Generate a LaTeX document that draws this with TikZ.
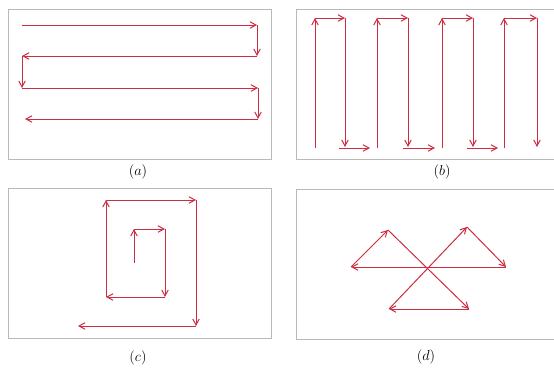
\documentclass[tikz,border=0pt]{standalone}
\usetikzlibrary{arrows.meta}
\definecolor{pathred}{RGB}{205,45,65}
\definecolor{framegray}{RGB}{185,185,185}
\tikzset{
  frame/.style={draw=framegray, line width=0.9pt},
  route/.style={draw=pathred, line width=1pt, -{Straight Barb[length=6pt,width=6.5pt]}},
  captext/.style={font=\fontsize{13.5}{15}\selectfont}
}
\begin{document}
\begin{tikzpicture}[x=1pt,y=-1pt]
\useasboundingbox (0,0) rectangle (554,367);
\fill[white] (0,0) rectangle (554,367);
% frames
\draw[frame] (8,9) rectangle (271,159);
\draw[frame] (296,9) rectangle (560,159);
\draw[frame] (8,188) rectangle (271,338);
\draw[frame] (296,189) rectangle (560,339);
% labels
\node[captext] (la) at (138,172) {$(a)$};
\node[captext] (lb) at (442,172) {$(b)$};
\node[captext] (lc) at (138,358) {$(c)$};
\node[captext] (ld) at (426,357) {$(d)$};
% (a)
\coordinate (a0) at (22,25);
\coordinate (a1) at (257,25);
\coordinate (a2) at (257,56);
\coordinate (a3) at (22,56);
\coordinate (a4) at (22,88);
\coordinate (a5) at (258,88);
\coordinate (a6) at (258,119);
\coordinate (a7) at (25,119);
\draw[route] (a0) -- (a1);
\draw[route] (a1) -- (a2);
\draw[route] (a2) -- (a3);
\draw[route] (a3) -- (a4);
\draw[route] (a4) -- (a5);
\draw[route] (a5) -- (a6);
\draw[route] (a6) -- (a7);
% (b)
\foreach \i/\xu/\xd in {1/315/345, 2/377/408, 3/442/473, 4/504/537}{
  \coordinate (bu\i) at (\xu,148);
  \coordinate (bt\i) at (\xu,18);
  \coordinate (bs\i) at (\xd,18);
  \coordinate (bd\i) at (\xd,147);
  \draw[route] (bu\i) -- (bt\i);
  \draw[route] (bt\i) -- (bs\i);
  \draw[route] (bs\i) -- (bd\i);
}
\foreach \i/\xa/\xb in {1/339/370, 2/403/435, 3/467/498}{
  \coordinate (bh\i) at (\xa,148);
  \coordinate (be\i) at (\xb,148);
  \draw[route] (bh\i) -- (be\i);
}
% (c)
\coordinate (c0) at (134,263);
\coordinate (c1) at (134,229);
\coordinate (c2) at (165,229);
\coordinate (c3) at (165,297);
\coordinate (c4) at (106,297);
\coordinate (c5) at (106,200);
\coordinate (c6) at (196,200);
\coordinate (c7) at (196,326);
\coordinate (c8) at (78,326);
\draw[route] (c0) -- (c1);
\draw[route] (c1) -- (c2);
\draw[route] (c2) -- (c3);
\draw[route] (c3) -- (c4);
\draw[route] (c4) -- (c5);
\draw[route] (c5) -- (c6);
\draw[route] (c6) -- (c7);
\draw[route] (c7) -- (c8);
% (d)
\coordinate (dl) at (351,267);
\coordinate (dtl) at (388,230);
\coordinate (dbr) at (469,309);
\coordinate (dbl) at (389,309);
\coordinate (dtr) at (467,227);
\coordinate (dr) at (506,267);
\draw[route] (dl) -- (dtl);
\draw[route] (dtl) -- (dbr);
\draw[route] (dbr) -- (dbl);
\draw[route] (dbl) -- (dtr);
\draw[route] (dtr) -- (dr);
\draw[route] (dr) -- (dl);
\end{tikzpicture}
\end{document}
